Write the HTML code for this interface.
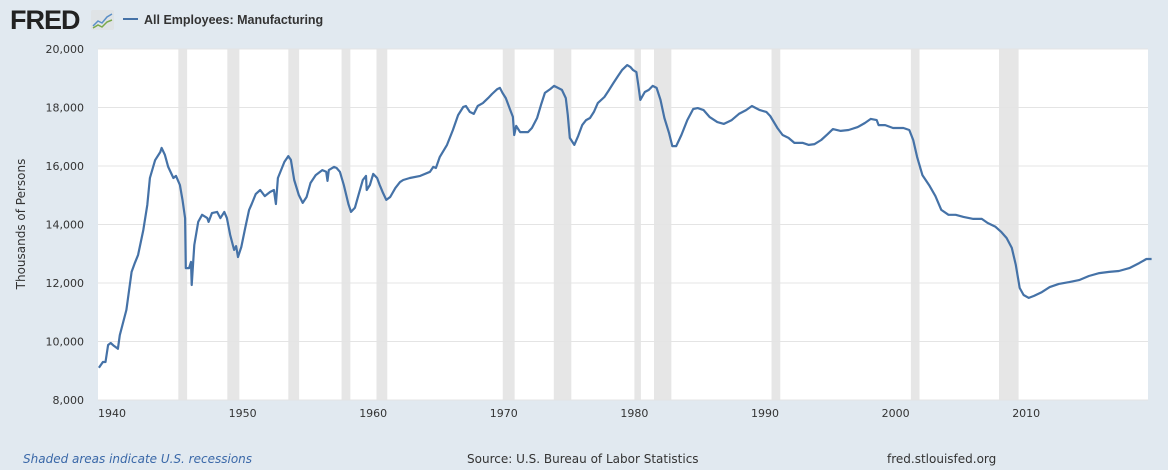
<!DOCTYPE html>
<html><head><meta charset="utf-8"><style>
body{margin:0;background:#e1e9f0;font-family:"DejaVu Sans","Liberation Sans",sans-serif;}
#wrap{position:relative;width:1168px;height:470px;overflow:hidden;background:#e1e9f0;}
</style></head><body>
<div id="wrap">
<svg id="chart" width="1168" height="470" font-family="DejaVu Sans, Liberation Sans, sans-serif">
  <text x="10" y="29" font-size="27" font-weight="bold" fill="#222" font-family="Liberation Sans, sans-serif" letter-spacing="-1">FRED</text>
  <g>
    <rect x="91" y="10" width="23" height="20" fill="#dfe3e6" rx="2"/>
    <polyline points="93,26 98,21 102,23 107,17 112,14" fill="none" stroke="#5b8fc7" stroke-width="1.5"/>
    <polyline points="93,28 98,25 102,27 107,22 112,20" fill="none" stroke="#7aa84a" stroke-width="1.5"/>
  </g>
  <line x1="123" y1="19" x2="138" y2="19" stroke="#4572a7" stroke-width="2"/>
  <text x="144" y="24" font-size="12.5" font-weight="bold" fill="#333" font-family="Liberation Sans, sans-serif">All Employees: Manufacturing</text>
  <rect x="98" y="49" width="1050" height="351" fill="#fff"/>
  <g id="rec"></g><g id="grid"></g><g id="ylab"></g><g id="xlab"></g><g id="series"></g>
  <text transform="translate(25,224) rotate(-90)" text-anchor="middle" font-size="12" fill="#333">Thousands of Persons</text>
  <text x="23" y="463" font-size="12" font-style="italic" fill="#3a68a8">Shaded areas indicate U.S. recessions</text>
  <text x="467" y="463" font-size="12" fill="#333">Source: U.S. Bureau of Labor Statistics</text>
  <text x="887" y="463" font-size="12" fill="#333">fred.stlouisfed.org</text>
</svg>
</div>
<script>
const years=[1939.0,1939.3,1939.5,1939.7,1939.9,1940.15,1940.45,1940.6,1941.1,1941.5,1941.75,1942.0,1942.4,1942.7,1942.9,1943.3,1943.7,1943.8,1944.05,1944.3,1944.7,1944.9,1945.2,1945.4,1945.6,1945.65,1945.9,1946.05,1946.1,1946.3,1946.6,1946.9,1947.3,1947.4,1947.65,1948.05,1948.3,1948.6,1948.8,1949.05,1949.35,1949.5,1949.65,1949.9,1950.2,1950.5,1950.7,1951.0,1951.35,1951.7,1952.1,1952.4,1952.55,1952.7,1953.2,1953.5,1953.7,1953.95,1954.3,1954.6,1954.9,1955.2,1955.6,1956.1,1956.4,1956.5,1956.6,1957.0,1957.2,1957.45,1957.75,1958.1,1958.3,1958.6,1958.85,1959.2,1959.45,1959.5,1959.75,1960.0,1960.3,1960.5,1960.75,1961.0,1961.3,1961.7,1962.05,1962.3,1962.8,1963.6,1964.35,1964.6,1964.8,1965.1,1965.65,1966.1,1966.5,1966.9,1967.1,1967.4,1967.7,1968.0,1968.4,1968.8,1969.1,1969.5,1969.7,1969.9,1970.15,1970.5,1970.7,1970.8,1970.95,1971.25,1971.85,1972.15,1972.55,1972.85,1973.15,1973.55,1973.85,1974.15,1974.45,1974.75,1974.9,1975.05,1975.4,1975.7,1976.0,1976.3,1976.6,1976.9,1977.2,1977.7,1978.0,1978.4,1978.75,1979.05,1979.45,1979.7,1979.9,1980.15,1980.3,1980.45,1980.8,1981.1,1981.4,1981.7,1982.0,1982.3,1982.65,1982.9,1983.2,1983.6,1984.05,1984.5,1984.85,1985.3,1985.75,1986.35,1986.85,1987.45,1988.0,1988.55,1989.0,1989.6,1990.1,1990.4,1990.95,1991.35,1991.8,1992.25,1992.9,1993.35,1993.8,1994.3,1994.8,1995.2,1995.8,1996.4,1997.1,1997.65,1998.1,1998.55,1998.7,1999.2,1999.8,2000.6,2001.05,2001.35,2001.65,2002.05,2002.6,2003.05,2003.5,2004.05,2004.6,2005.2,2005.95,2006.6,2007.05,2007.65,2008.1,2008.5,2008.9,2009.2,2009.5,2009.8,2010.2,2010.6,2011.2,2011.8,2012.5,2013.3,2014.05,2014.8,2015.6,2016.35,2017.1,2017.9,2018.65,2019.2,2019.6];
const values=[9100,9300,9300,9880,9950,9850,9750,10220,11080,12380,12690,12960,13810,14670,15590,16200,16480,16620,16380,15970,15590,15660,15350,14840,14220,12510,12510,12720,11930,13300,14090,14330,14220,14090,14390,14430,14220,14430,14220,13640,13130,13260,12890,13230,13880,14500,14700,15040,15180,14970,15110,15180,14700,15590,16140,16340,16210,15520,15010,14740,14940,15420,15690,15860,15800,15490,15860,15970,15930,15800,15350,14700,14430,14570,14970,15520,15660,15180,15350,15730,15590,15350,15080,14840,14940,15250,15450,15520,15590,15660,15800,15970,15930,16310,16720,17230,17740,18020,18050,17850,17780,18050,18150,18320,18460,18630,18670,18500,18320,17910,17680,17060,17370,17160,17160,17300,17640,18090,18500,18630,18740,18670,18600,18320,17740,16960,16720,17030,17400,17570,17640,17850,18150,18360,18560,18840,19080,19280,19450,19380,19280,19210,18770,18260,18530,18600,18740,18670,18260,17640,17130,16680,16680,17060,17570,17950,17980,17910,17680,17500,17440,17570,17780,17910,18050,17910,17850,17710,17300,17060,16960,16790,16790,16720,16750,16890,17090,17260,17200,17230,17330,17470,17610,17570,17400,17400,17300,17300,17230,16890,16310,15690,15320,14970,14500,14330,14330,14260,14190,14190,14050,13920,13740,13540,13200,12620,11830,11590,11490,11560,11690,11860,11970,12030,12100,12240,12340,12380,12410,12510,12680,12820,12820];
const recStart=[1945.08,1948.83,1953.5,1957.58,1960.25,1969.92,1973.83,1980.0,1981.5,1990.5,2001.17,2007.92];
const recEnd=[1945.75,1949.75,1954.33,1958.25,1961.08,1970.83,1975.17,1980.5,1982.83,1991.17,2001.83,2009.42];
const yTicks=[8000,10000,12000,14000,16000,18000,20000];
const xTicks=[1940,1950,1960,1970,1980,1990,2000,2010];
const NS="http://www.w3.org/2000/svg";
const X0=98,X1=1148,Y0=400,Y1=49;
const xs=y=>112+(y-1940)*13.06;
const ys=v=>Y0-(v-8000)/12000*(Y0-Y1);
function mk(t,a,p){const e=document.createElementNS(NS,t);for(const k in a)e.setAttribute(k,a[k]);p.appendChild(e);return e;}
const rec=document.getElementById('rec');
recStart.forEach((s,i)=>{
  const r=mk('rect',{x:xs(s),y:Y1,width:xs(recEnd[i])-xs(s),height:Y0-Y1,fill:'#e6e6e6'},rec);
  
  
});
const grid=document.getElementById('grid'),yl=document.getElementById('ylab'),xl=document.getElementById('xlab');
yTicks.forEach(v=>{
  const l=mk('line',{x1:X0,x2:X1,y1:ys(v),y2:ys(v),stroke:'#e4e4e4','stroke-width':1},grid);
  
  
  const t=mk('text',{x:84,y:ys(v)+4,'text-anchor':'end','font-size':11,fill:'#333'},yl);
  t.textContent=v.toLocaleString('en-US');
  
  
});
xTicks.forEach(y=>{
  const t=mk('text',{x:xs(y),y:417,'text-anchor':'middle','font-size':11,fill:'#333'},xl);
  t.textContent=y;
  
  
});
const pts=years.map((y,i)=>xs(y).toFixed(1)+','+ys(values[i]).toFixed(1)).join(' ');
const line=mk('polyline',{points:pts,fill:'none',stroke:'#4572a7','stroke-width':2.2,'stroke-linejoin':'round'},document.getElementById('series'));


</script>
</body></html>
